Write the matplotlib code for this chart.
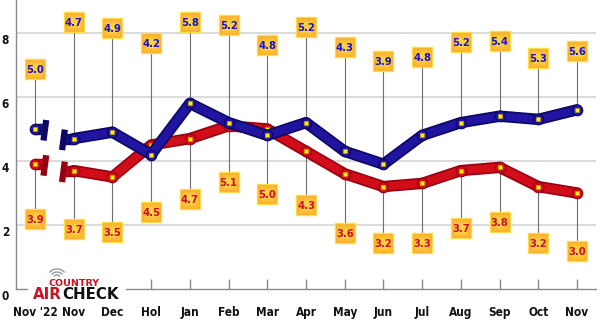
import matplotlib
matplotlib.use("Agg")
import matplotlib.pyplot as plt
import matplotlib.patheffects as pe
from matplotlib.patches import Arc, Rectangle
from matplotlib.transforms import ScaledTranslation, IdentityTransform

# ---------------- data ----------------
categories = ["Nov '22", "Nov", "Dec", "Hol", "Jan", "Feb", "Mar", "Apr",
              "May", "Jun", "Jul", "Aug", "Sep", "Oct", "Nov"]
blue_values = [5.0, 4.7, 4.9, 4.2, 5.8, 5.2, 4.8, 5.2, 4.3, 3.9, 4.8, 5.2, 5.4, 5.3, 5.6]
red_values = [3.9, 3.7, 3.5, 4.5, 4.7, 5.1, 5.0, 4.3, 3.6, 3.2, 3.3, 3.7, 3.8, 3.2, 3.0]
y_ticks = [0, 2, 4, 6, 8]

# label box heights (layout, in axis units)
blue_label_y = [6.88, 8.34, 8.16, 7.69, 8.34, 8.25, 7.63, 8.19, 7.56, 7.13, 7.25, 7.72, 7.75, 7.22, 7.44]
red_label_y = [2.19, 1.88, 1.78, 2.41, 2.81, 3.34, 2.97, 2.63, 1.75, 1.44, 1.44, 1.91, 2.09, 1.44, 1.19]

W, H = 600, 322
fig = plt.figure(figsize=(W / 100, H / 100), dpi=100)
ax = fig.add_axes([16 / W, 33 / H, 580 / W, 289 / H])
x = list(range(len(categories)))
ax.set_xlim(-0.49, 14.49)
ax.set_ylim(0, 9.03)

# grid / spines
ax.set_yticks(y_ticks)
ax.set_xticks(x)
ax.set_xticklabels(categories)
for yv in y_ticks[1:]:
    ax.axhline(yv, color="#d4d4d4", lw=1.2, zorder=0)
for s in ["top", "right"]:
    ax.spines[s].set_visible(False)
for s in ["left", "bottom"]:
    ax.spines[s].set_color("#8a8a8a")
    ax.spines[s].set_linewidth(1.0)
ax.tick_params(axis="x", direction="in", length=7, color="#8a8a8a", width=1, pad=12)
ax.tick_params(axis="y", length=0, pad=5)
for lab in ax.get_xticklabels() + ax.get_yticklabels():
    lab.set_fontweight("bold")
    lab.set_fontsize(8.5)
    lab.set_fontstretch("condensed")
    lab.set_color("#111111")
for lab in ax.get_yticklabels():
    lab.set_transform(lab.get_transform() + ScaledTranslation(0, -6 / 100, fig.dpi_scale_trans))

# leader lines
for i in x:
    ax.plot([i, i], [blue_values[i], blue_label_y[i]], color="#6e6e6e", lw=0.8, zorder=1)
    ax.plot([i, i], [red_values[i], red_label_y[i]], color="#6e6e6e", lw=0.8, zorder=1)


def draw_series(vals, main, dark, z):
    effects = [pe.Stroke(linewidth=8.2, foreground=dark), pe.Normal()]
    gap_l, gap_r = 0.24, 0.72
    ax.plot([0, gap_l], [vals[0], vals[0]], color=main, lw=5.8, solid_capstyle="butt",
            path_effects=effects, zorder=z)
    ax.plot([gap_r, 1], [vals[1], vals[1]], color=main, lw=5.8, solid_capstyle="butt",
            path_effects=effects, zorder=z)
    ax.plot([gap_l + 0.05, gap_l - 0.02], [vals[0] + 0.28, vals[0] - 0.36], color=dark,
            lw=4.5, solid_capstyle="butt", zorder=z + 0.1)
    ax.plot([gap_r + 0.05, gap_r - 0.02], [vals[1] + 0.28, vals[1] - 0.36], color=dark,
            lw=4.5, solid_capstyle="butt", zorder=z + 0.1)
    ax.plot(x[1:], vals[1:], color=main, lw=5.8, solid_joinstyle="round",
            solid_capstyle="round", path_effects=effects, zorder=z)
    ax.plot(x, vals, ls="none", marker="o", ms=7.6, mfc=main, mec=dark, mew=0.8, zorder=z + 0.2)
    ax.plot(x, vals, ls="none", marker="s", ms=3.2, mfc="#fff000", mec="#c9a800",
            mew=0.4, zorder=z + 0.3)


draw_series(red_values, "#d20c18", "#960010", 3)
draw_series(blue_values, "#2114a0", "#0c0664", 4)


def draw_labels(vals, ly, tcolor):
    ax.plot(x, ly, ls="none", marker="s", ms=15, mfc="#fbab2a", mec="#ffdc4a",
            mew=1.0, zorder=6)
    ax.plot(x, ly, ls="none", marker="s", ms=11, mfc="#fdbe36", mec="none", zorder=6.1)
    ax.plot(x, ly, ls="none", marker="s", ms=7, mfc="#ffd044", mec="none", zorder=6.2)
    for i, v in enumerate(vals):
        ax.text(i, ly[i], f"{v:.1f}", ha="center", va="center_baseline",
                fontsize=7.2, fontweight="bold", color=tcolor, zorder=7)


draw_labels(blue_values, blue_label_y, "#1414cc")
draw_labels(red_values, red_label_y, "#c8102e")

# logo
fig.add_artist(Rectangle((28, H - 300), 98, 22, transform=IdentityTransform(),
                         facecolor="white", edgecolor="none", zorder=10))
for r in [4, 7, 10]:
    fig.add_artist(Arc((57, H - 279), 2 * r, 2 * r, theta1=40, theta2=140,
                       transform=IdentityTransform(), color="#9a9a9a", lw=1.0, zorder=11))
fig.text(74 / W, (H - 285.5) / H, "COUNTRY", ha="center", va="baseline", fontsize=6.8,
         fontweight="bold", color="#cc1122", zorder=12)
t1 = fig.text(33 / W, (H - 299) / H, "AIR", ha="left", va="baseline", fontsize=10.8,
              fontweight="bold", color="#cc1122", zorder=12)
fig.canvas.draw()
bb = t1.get_window_extent()
fig.text(bb.x1 / W, (H - 299) / H, "CHECK", ha="left", va="baseline", fontsize=10.8,
         fontweight="bold", color="#111111", zorder=12)

fig.savefig("out.png", dpi=100)
